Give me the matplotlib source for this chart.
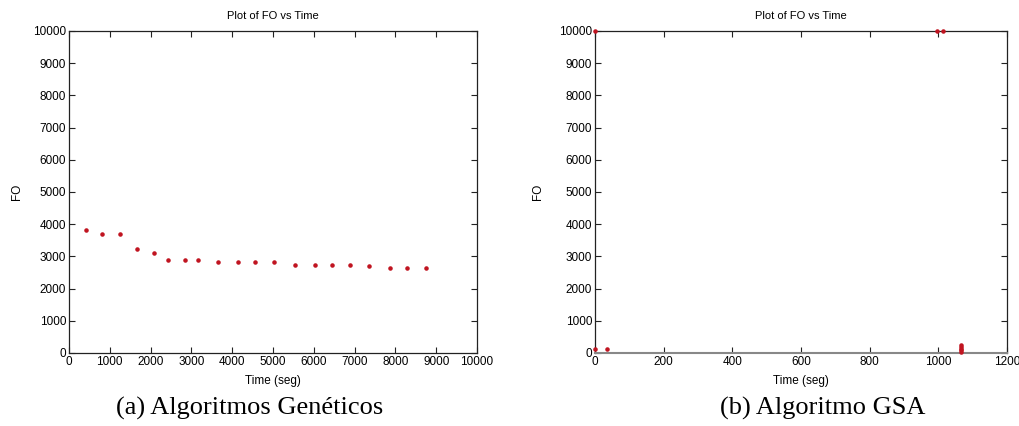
import matplotlib
matplotlib.use("Agg")
import matplotlib.pyplot as plt

# Data: (a) Algoritmos Genéticos
ga_time = [416, 808, 1249, 1673, 2090, 2424, 2841, 3159, 3649, 4147,
           4571, 5029, 5535, 6033, 6449, 6890, 7347, 7861, 8286, 8751]
ga_fo = [3831, 3702, 3681, 3239, 3095, 2889, 2889, 2889, 2828, 2828,
         2828, 2828, 2745, 2745, 2745, 2745, 2704, 2653, 2653, 2653]

# Data: (b) Algoritmo GSA
gsa_time = [0, 0, 34, 996, 1014, 1065, 1065, 1065, 1065, 1065]
gsa_fo = [10000, 130, 130, 10000, 10000, 250, 180, 120, 80, 40]

ga_xticks = list(range(0, 10001, 1000))
gsa_xticks = list(range(0, 1201, 200))
yticks = list(range(0, 10001, 1000))

title_txt = "Plot of FO vs Time"
xlabel_txt = "Time (seg)"
ylabel_txt = "FO"
captions = ["(a) Algoritmos Genéticos", "(b) Algoritmo GSA"]

plt.rcParams['font.family'] = ['Liberation Sans', 'DejaVu Sans']

fig = plt.figure(figsize=(10.19, 4.26), dpi=100)
ax1 = fig.add_axes([0.0677, 0.1714, 0.4004, 0.7559])
ax2 = fig.add_axes([0.5839, 0.1714, 0.4043, 0.7559])

marker_color = '#c01420'

def style(ax, xticks, xmax, ylpad):
    ax.set_xlim(0, xmax)
    ax.set_ylim(0, 10000)
    ax.set_xticks(xticks)
    ax.set_yticks(yticks)
    ax.tick_params(direction='in', top=True, right=True, labelsize=8.5,
                   length=4, width=0.8, color='#222222', pad=2)
    for s in ax.spines.values():
        s.set_linewidth(0.9)
        s.set_color('#222222')
    ax.set_title(title_txt, fontsize=8, pad=8.5)
    ax.set_xlabel(xlabel_txt, fontsize=8.5, labelpad=5)
    ax.set_ylabel(ylabel_txt, fontsize=8.5, labelpad=ylpad)

ax1.plot(ga_time, ga_fo, linestyle='none', marker='.', markersize=4.5,
         color=marker_color, clip_on=False)
style(ax1, ga_xticks, 10000, 7)

ax2.plot(gsa_time, gsa_fo, linestyle='none', marker='.', markersize=4.5,
         color=marker_color, clip_on=False, zorder=5)
style(ax2, gsa_xticks, 1200, 11)
ax2.spines['bottom'].set_color('#888888')
ax2.spines['bottom'].set_linewidth(1.5)

fig.text(0.2453, 0.042, captions[0], ha='center', va='center',
         fontsize=19, family='Liberation Serif')
fig.text(0.807, 0.042, captions[1], ha='center', va='center',
         fontsize=19, family='Liberation Serif')

fig.savefig("out.png", dpi=100)
